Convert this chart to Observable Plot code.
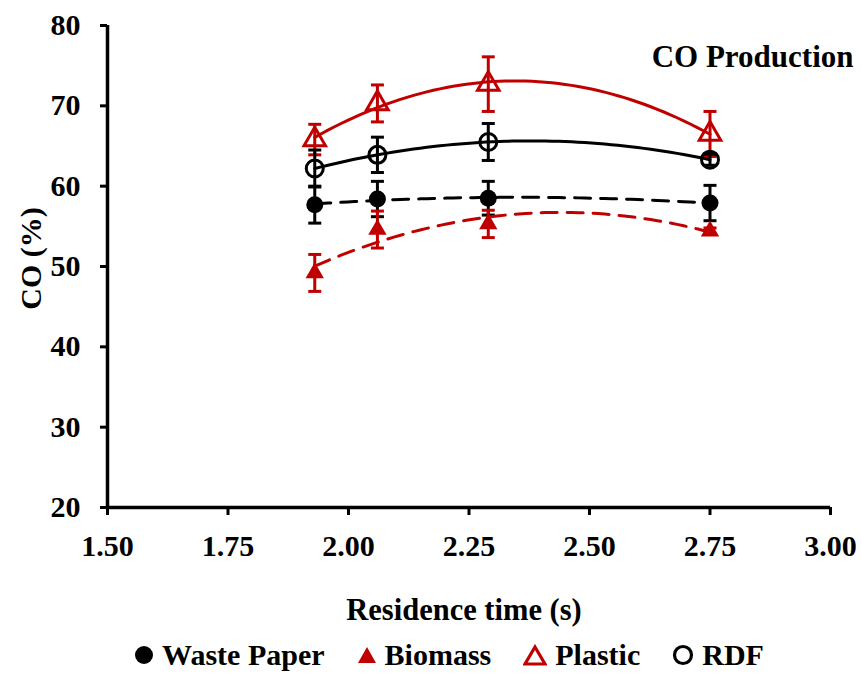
<!DOCTYPE html>
<html>
<head>
<meta charset="utf-8">
<script src="https://cdn.jsdelivr.net/npm/d3@7"></script>
<script src="https://cdn.jsdelivr.net/npm/@observablehq/plot@0.6"></script>
<style>
  html, body { margin: 0; padding: 0; background: #fff; }
  #chart { width: 862px; }
  .legend { display: flex; align-items: center; justify-content: center; height: 40px; padding-left: 36px;
    font-family: "Liberation Serif", "Times New Roman", serif; font-weight: bold; font-size: 30px; line-height: 30px; color: #000; }
  .legend .item { display: flex; align-items: center; margin: 0 16px; }
  .legend svg { margin-right: 8px; }
</style>
</head>
<body>
<div id="chart"></div>
<script>
// ---- data ----
const residenceTime = [1.93, 2.06, 2.29, 2.75];
const seriesNames = ["Waste Paper", "Biomass", "Plastic", "RDF"];
const wastePaper    = [57.7, 58.4, 58.5, 57.9];
const wastePaperErr = [2.3, 2.2, 2.1, 2.2];
const biomass       = [49.2, 54.6, 55.3, 54.4];
const biomassErr    = [2.3, 2.3, 1.7, 0.4];
const plastic       = [65.8, 70.3, 72.7, 66.5];
const plasticErr    = [1.9, 2.3, 3.4, 2.8];
const rdf           = [62.2, 63.9, 65.5, 63.3];
const rdfErr        = [2.3, 2.2, 2.3, 0.7];
const xTicks = [1.5, 1.75, 2.0, 2.25, 2.5, 2.75, 3.0];
const yTicks = [20, 30, 40, 50, 60, 70, 80];

const RED = "#C00000", BLACK = "#000000";
const styles = {
  "Waste Paper": {color: BLACK, dash: "16,10", symbol: "circle", fill: BLACK, stroke: "none", r: 8.5},
  "Biomass":     {color: RED,   dash: "16,10", symbol: "triangle", fill: RED, stroke: "none", r: 6.8},
  "Plastic":     {color: RED,   dash: null, symbol: "triangle", fill: "none", stroke: RED, r: 8},
  "RDF":         {color: BLACK, dash: null, symbol: "circle", fill: "none", stroke: BLACK, r: 8.5}
};
const values = {"Waste Paper": wastePaper, "Biomass": biomass, "Plastic": plastic, "RDF": rdf};
const errors = {"Waste Paper": wastePaperErr, "Biomass": biomassErr, "Plastic": plasticErr, "RDF": rdfErr};

// quadratic least-squares trendline (as in the spreadsheet's polynomial trendline)
function quadFit(xs, ys) {
  let S = Array.from({length: 5}, () => 0), T = [0, 0, 0];
  xs.forEach((x, i) => {
    for (let k = 0; k < 5; k++) S[k] += x ** k;
    for (let k = 0; k < 3; k++) T[k] += ys[i] * x ** k;
  });
  const A = [[S[0], S[1], S[2], T[0]], [S[1], S[2], S[3], T[1]], [S[2], S[3], S[4], T[2]]];
  for (let c = 0; c < 3; c++) {
    for (let r = c + 1; r < 3; r++) {
      const f = A[r][c] / A[c][c];
      for (let k = c; k < 4; k++) A[r][k] -= f * A[c][k];
    }
  }
  const b = [0, 0, 0];
  for (let r = 2; r >= 0; r--) {
    let s = A[r][3];
    for (let k = r + 1; k < 3; k++) s -= A[r][k] * b[k];
    b[r] = s / A[r][r];
  }
  return x => b[0] + b[1] * x + b[2] * x * x;
}

const capSymbol = {draw(ctx) { ctx.moveTo(-6.5, 0); ctx.lineTo(6.5, 0); }};

const marks = [];
// error bars
for (const name of seriesNames) {
  const st = styles[name];
  const rows = residenceTime.map((t, i) => ({t, lo: values[name][i] - errors[name][i], hi: values[name][i] + errors[name][i]}));
  marks.push(Plot.ruleX(rows, {x: "t", y1: "lo", y2: "hi", stroke: st.color, strokeWidth: 3}));
  marks.push(Plot.dot(rows, {x: "t", y: "hi", symbol: capSymbol, stroke: st.color, strokeWidth: 3, fill: "none"}));
  marks.push(Plot.dot(rows, {x: "t", y: "lo", symbol: capSymbol, stroke: st.color, strokeWidth: 3, fill: "none"}));
}
// trendlines
for (const name of seriesNames) {
  const st = styles[name];
  const f = quadFit(residenceTime, values[name]);
  const x0 = residenceTime[0], x1 = residenceTime[residenceTime.length - 1];
  const pts = d3.range(0, 61).map(k => { const t = x0 + (x1 - x0) * k / 60; return {t, v: f(t)}; });
  marks.push(Plot.line(pts, {x: "t", y: "v", stroke: st.color, strokeWidth: 3, strokeDasharray: st.dash, curve: "linear"}));
}
// markers
for (const name of seriesNames) {
  const st = styles[name];
  const rows = residenceTime.map((t, i) => ({t, v: values[name][i]}));
  marks.push(Plot.dot(rows, {x: "t", y: "v", symbol: st.symbol, r: st.r, fill: st.fill, stroke: st.stroke, strokeWidth: 3}));
}

const chart = Plot.plot({
  width: 862,
  height: 635,
  marginLeft: 107,
  marginRight: 32,
  marginTop: 25,
  marginBottom: 128,
  style: {fontFamily: "'Liberation Serif', 'Times New Roman', serif", fontSize: "30px", fontWeight: "bold", background: "#fff", color: "#000"},
  x: {domain: [1.5, 3.0]},
  y: {domain: [20, 80]},
  marks: [
    Plot.axisX({ticks: xTicks, tickFormat: d3.format(".2f"), tickSize: 8, tickPadding: 19, strokeWidth: 3, label: null}),
    Plot.axisY({ticks: yTicks, tickSize: 7, tickPadding: 20, strokeWidth: 3, label: null}),
    Plot.ruleY([20], {strokeWidth: 3.5}),
    Plot.ruleX([1.5], {strokeWidth: 3.5}),
    ...marks,
    Plot.text(["CO Production"], {frameAnchor: "top-right", textAnchor: "end", lineAnchor: "middle", dx: 23, dy: 32, fontSize: 31}),
    Plot.text(["Residence time (s)"], {frameAnchor: "bottom", textAnchor: "middle", lineAnchor: "middle", dx: -5, dy: 103, fontSize: 30.5}),
    Plot.text(["CO (%)"], {frameAnchor: "left", textAnchor: "middle", lineAnchor: "middle", rotate: -90, dx: -76, dy: -8, fontSize: 30})
  ]
});
document.getElementById("chart").appendChild(chart);

// legend
const legend = document.createElement("div");
legend.className = "legend";
const icons = {
  "Waste Paper": `<svg width="20" height="20"><circle cx="10" cy="10" r="9" fill="${BLACK}"/></svg>`,
  "Biomass": `<svg width="20" height="20"><path d="M10,2 L19,18 L1,18 Z" fill="${RED}"/></svg>`,
  "Plastic": `<svg width="24" height="22"><path d="M12,3 L22,20 L2,20 Z" fill="none" stroke="${RED}" stroke-width="3.2"/></svg>`,
  "RDF": `<svg width="22" height="22"><circle cx="11" cy="11" r="8.5" fill="none" stroke="${BLACK}" stroke-width="3.2"/></svg>`
};
for (const name of seriesNames) {
  const item = document.createElement("span");
  item.className = "item";
  item.innerHTML = icons[name] + `<span>${name}</span>`;
  legend.appendChild(item);
}
document.body.appendChild(legend);
</script>
</body>
</html>
